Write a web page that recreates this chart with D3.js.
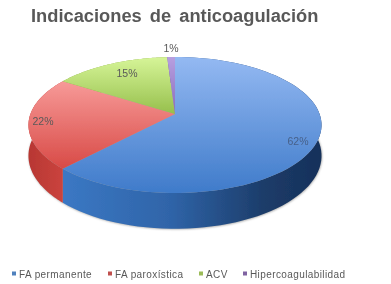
<!DOCTYPE html>
<html>
<head>
<meta charset="utf-8">
<script src="https://cdn.jsdelivr.net/npm/d3@7"></script>
<style>
  html, body { margin: 0; padding: 0; background: #fff; }
  svg { display: block; }
  text { font-family: "Liberation Sans", Arial, sans-serif; fill: #595959; }
</style>
</head>
<body>
<div id="chart"></div>
<script>
'use strict';

const categories = ['FA permanente', 'FA paroxística', 'ACV', 'Hipercoagulabilidad'];
const values = [62, 22, 15, 1];
const labels = ['62%', '22%', '15%', '1%'];

const width = 391, height = 284;

// slice colours: top face [light, dark], side [left to right], legend swatch
const topColors = [['#94b9f2', '#3f7bca'], ['#f79a98', '#d84a46'], ['#d6f598', '#96bf4c'], ['#b79fe0', '#8a6cbc']];
const sideColors = [['#3b78c4', '#2f64a8', '#1c3c69', '#16305a'], ['#b83733', '#cb443e'], ['#8aa845', '#8aa845'], ['#6d5499', '#6d5499']];
const swatchColors = ['#4f81bd', '#c0504d', '#9bbb59', '#8064a2'];

// where text sits
const labelPos = [[298, 145], [43, 125], [127, 77], [171, 52]];
const legendText = [19, 115, 206, 250];

const svg = d3.select('#chart').append('svg')
    .attr('width', width)
    .attr('height', height);

const defs = svg.append('defs');

const soft = defs.append('filter').attr('id', 'soft');
soft.append('feGaussianBlur').attr('stdDeviation', 0.4);

const shadow = defs.append('filter').attr('id', 'shadow')
    .attr('x', '-5%').attr('y', '-5%').attr('width', '110%').attr('height', '110%');
shadow.append('feGaussianBlur').attr('stdDeviation', 1);

// perspective view of the pie: a circle seen from the front and above
const cx = 175, cy = 114, rX = 144.6, rY = 66.2, persp = 0.162, depth = 30;

function project(angle, r) {
  const u = Math.sin(angle) * r, v = -Math.cos(angle) * r;
  const w = 1 - persp * v;
  return [cx + rX * u / w, cy + rY * v / w];
}

function lower(angle) {
  const p = project(angle, 1);
  return [p[0], p[1] + depth / (1 + persp * Math.cos(angle))];
}

const pie = d3.pie().sort(null)(values);
const line = d3.line();

function arcPoints(a0, a1, fn) {
  return d3.range(0, 81).map(i => fn(a0 + (a1 - a0) * i / 80));
}

// soft shadow below the whole solid
svg.append('path')
    .attr('d', line(arcPoints(0, 2 * Math.PI, lower).map(p => [p[0] + 0.5, p[1] + 0.5])) + 'Z')
    .attr('fill', '#a0a0a0')
    .attr('filter', 'url(#shadow)');

const pieG = svg.append('g').attr('filter', 'url(#soft)');

// side walls
pie.forEach((d, i) => {
  const id = 'side' + i;
  const grad = defs.append('linearGradient').attr('id', id)
      .attr('gradientUnits', 'userSpaceOnUse')
      .attr('x1', i === 0 ? 62 : 29).attr('x2', i === 0 ? 322 : 64)
      .attr('y1', 0).attr('y2', 0);
  sideColors[i].forEach((c, j, all) => {
    grad.append('stop').attr('offset', all.length === 4 ? [0, 0.42, 0.78, 1][j] : j).attr('stop-color', c);
  });
  const pts = arcPoints(d.startAngle, d.endAngle, a => project(a, 1))
      .concat(arcPoints(d.endAngle, d.startAngle, lower));
  pieG.append('path')
      .attr('d', line(pts) + 'Z')
      .attr('fill', 'url(#' + id + ')');
});

// top faces
pie.forEach((d, i) => {
  const id = 'top' + i;
  const ys = arcPoints(d.startAngle, d.endAngle, a => project(a, 1)).map(p => p[1]).concat([cy]);
  const grad = defs.append('linearGradient').attr('id', id)
      .attr('gradientUnits', 'userSpaceOnUse')
      .attr('x1', 0).attr('x2', 0)
      .attr('y1', d3.min(ys)).attr('y2', d3.max(ys));
  grad.append('stop').attr('offset', 0).attr('stop-color', topColors[i][0]);
  grad.append('stop').attr('offset', 1).attr('stop-color', topColors[i][1]);
  const pts = [[cx, cy]].concat(arcPoints(d.startAngle, d.endAngle, a => project(a, 1)));
  pieG.append('path')
      .attr('d', line(pts) + 'Z')
      .attr('fill', 'url(#' + id + ')');
});

// title
svg.append('text')
    .attr('x', 31).attr('y', 22)
    .attr('font-size', 18.3)
    .attr('font-weight', 'bold')
    .attr('word-spacing', 3)
    .attr('filter', 'url(#soft)')
    .text('Indicaciones de anticoagulación');

// percent labels
svg.selectAll('.pct')
    .data(labels)
    .enter().append('text')
    .attr('class', 'pct')
    .attr('x', (d, i) => labelPos[i][0])
    .attr('y', (d, i) => labelPos[i][1])
    .attr('text-anchor', 'middle')
    .attr('font-size', 10.5)
    .attr('filter', 'url(#soft)')
    .style('fill', (d, i) => i === 0 ? '#47618a' : '#595959')
    .text(d => d);

// legend
const legend = svg.selectAll('.legend')
    .data(categories)
    .enter().append('g')
    .attr('class', 'legend')
    .attr('filter', 'url(#soft)');

legend.append('rect')
    .attr('x', (d, i) => legendText[i] - 7)
    .attr('y', 271.5)
    .attr('width', 4)
    .attr('height', 4)
    .attr('fill', (d, i) => swatchColors[i]);

legend.append('text')
    .attr('x', (d, i) => legendText[i])
    .attr('y', 278)
    .attr('font-size', 10)
    .attr('letter-spacing', 0.4)
    .text(d => d);
</script>
</body>
</html>
